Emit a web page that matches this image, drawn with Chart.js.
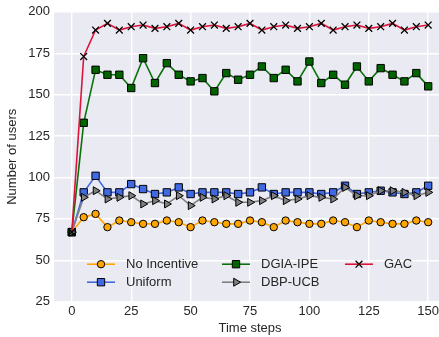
<!DOCTYPE html>
<html>
<head>
<meta charset="utf-8">
<script src="https://cdn.jsdelivr.net/npm/chart.js"></script>
<style>
  html, body { margin: 0; padding: 0; background: #fff; overflow: hidden; }
  #wrap { width: 470px; height: 337px; }
</style>
</head>
<body>
<div id="wrap"><canvas id="chart" width="470" height="337"></canvas></div>
<script>
const timeSteps = [0, 5, 10, 15, 20, 25, 30, 35, 40, 45, 50, 55, 60, 65, 70, 75,
                   80, 85, 90, 95, 100, 105, 110, 115, 120, 125, 130, 135, 140, 145, 150]
const xTicks = [0, 25, 50, 75, 100, 125, 150]
const yTicks = [25, 50, 75, 100, 125, 150, 175, 200]

const noIncentive = [67, 76, 78, 70, 74, 73, 72, 72, 74, 73, 70, 74, 73, 72, 72, 74,
                     73, 70, 74, 73, 72, 72, 74, 73, 70, 74, 73, 72, 72, 74, 73]
const uniform = [67, 91, 101, 91, 91, 96, 93, 90, 91, 94, 90, 91, 91, 91, 90, 91,
                 94, 90, 91, 91, 91, 90, 91, 95, 90, 91, 92, 91, 90, 91, 95]
const dgiaIpe = [67, 133, 165, 162, 162, 154, 172, 157, 169, 162, 158, 160, 152, 163, 159, 162,
                 167, 160, 165, 158, 170, 157, 162, 156, 167, 158, 166, 162, 158, 163, 155]
const dbpUcb = [67, 88, 92, 87, 88, 89, 84, 86, 84, 89, 83, 88, 87, 89, 85, 85,
                86, 89, 86, 87, 89, 88, 87, 94, 89, 89, 92, 92, 91, 89, 91]
const gac = [67, 173, 189, 193, 189, 191, 192, 190, 191, 193, 189, 191, 192, 190, 191, 193,
             189, 191, 192, 190, 191, 193, 189, 191, 192, 190, 191, 193, 189, 191, 192]

const FONT = { family: '"Liberation Sans", Arial, sans-serif', size: 13 }
const TEXT = '#262626'

// one entry per series, plotting order as in the original
const series = [
    { label: 'No Incentive', data: noIncentive, line: '#FFA500', fill: '#FFA500', style: 'circle', radius: 3.7, rot: 0 },
    { label: 'Uniform', data: uniform, line: '#4169E1', fill: '#4169E1', style: 'rect', radius: 5.2, rot: 0 },
    { label: 'DGIA-IPE', data: dgiaIpe, line: '#0b720b', fill: '#006400', style: 'rect', radius: 5.2, rot: 0 },
    { label: 'DBP-UCB', data: dbpUcb, line: '#808080', fill: '#808080', style: 'triangle', radius: 4.6, rot: 90 },
    { label: 'GAC', data: gac, line: '#DC143C', fill: '#000000', style: 'crossRot', radius: 4.8, rot: 0 }
]

const datasets = series.map((s, i) => ({
    label: s.label,
    data: s.data.map((v, j) => ({ x: timeSteps[j], y: v })),
    borderColor: s.line,
    borderWidth: 1.6,
    tension: 0,
    pointStyle: s.style,
    pointRotation: s.rot,
    pointRadius: s.radius,
    pointHoverRadius: s.radius,
    pointBackgroundColor: s.fill,
    pointBorderColor: '#000000',
    pointBorderWidth: s.style === 'crossRot' ? 1.3 : 1,
    order: series.length - i // later series drawn on top
}))

const bgPlugin = {
    id: 'darkgrid',
    beforeDraw(chart) {
        const { ctx, chartArea: a } = chart
        ctx.save()
        ctx.fillStyle = '#EAEAF2'
        ctx.fillRect(a.left, a.top, a.right - a.left, a.bottom - a.top)
        ctx.restore()
    }
}

// legend: 3 columns filled top-to-bottom, no frame
const legendPlugin = {
    id: 'columnLegend',
    afterDraw(chart) {
        const { ctx, chartArea: a } = chart
        const colX = [a.left + 33, a.left + 168, a.left + 291]
        const rowY = [a.bottom - 37.5, a.bottom - 19.5]
        ctx.save()
        series.forEach((s, i) => {
            const x = colX[Math.floor(i / 2)]
            const y = rowY[i % 2]
            ctx.strokeStyle = s.line
            ctx.lineWidth = 1.6
            ctx.beginPath()
            ctx.moveTo(x, y)
            ctx.lineTo(x + 28, y)
            ctx.stroke()
            ctx.fillStyle = s.fill
            ctx.strokeStyle = '#000000'
            ctx.lineWidth = s.style === 'crossRot' ? 1.3 : 1
            Chart.helpers.drawPoint(ctx, {
                pointStyle: s.style, rotation: s.rot, radius: s.radius, borderWidth: ctx.lineWidth
            }, x + 14, y)
            ctx.fillStyle = TEXT
            ctx.font = `${FONT.size}px ${FONT.family}`
            ctx.textAlign = 'left'
            ctx.textBaseline = 'middle'
            ctx.fillText(s.label, x + 39, y + 0.5)
        })
        ctx.restore()
    }
}

new Chart(document.getElementById('chart'), {
    type: 'line',
    data: { datasets },
    options: {
        responsive: false,
        animation: false,
        devicePixelRatio: 1,
        layout: { padding: { left: 0, top: 10, right: 24, bottom: 0 } },
        plugins: { legend: { display: false }, tooltip: { enabled: false } },
        scales: {
            x: {
                type: 'linear',
                min: -7.5,
                max: 157.5,
                afterBuildTicks: scale => { scale.ticks = xTicks.map(v => ({ value: v })) },
                afterFit: scale => { scale.height = 35.3 },
                grid: { color: '#ffffff', lineWidth: 1.4, drawTicks: false },
                border: { display: false },
                ticks: { color: TEXT, font: FONT, padding: 2, maxRotation: 0 },
                title: { display: true, text: 'Time steps', color: TEXT, font: FONT, padding: { top: 0, bottom: 1 } }
            },
            y: {
                min: 25,
                max: 200,
                afterBuildTicks: scale => { scale.ticks = yTicks.map(v => ({ value: v })) },
                afterFit: scale => { scale.width = 54 },
                grid: { color: '#ffffff', lineWidth: 1.4, drawTicks: false },
                border: { display: false },
                ticks: { color: TEXT, font: FONT, padding: 4 },
                title: { display: true, text: 'Number of users', color: TEXT, font: FONT, padding: { top: 5, bottom: 0 } }
            }
        }
    },
    plugins: [bgPlugin, legendPlugin]
})
</script>
</body>
</html>
